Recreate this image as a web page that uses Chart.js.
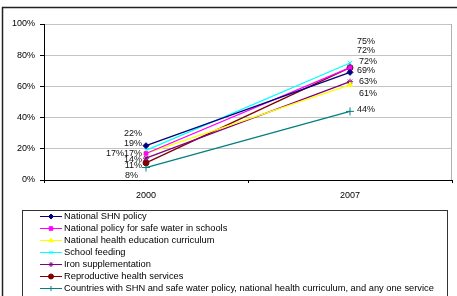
<!DOCTYPE html>
<html>
<head>
<meta charset="utf-8">
<script src="https://cdn.jsdelivr.net/npm/chart.js"></script>
<style>
  html, body { margin: 0; padding: 0; background: #fff; overflow: hidden; }
  #wrap { position: relative; width: 457px; height: 296px; overflow: hidden; }
  #title { position: absolute; left: 19px; top: -29px; margin: 0; font: 28px "Liberation Sans", Arial, sans-serif; line-height: 28px; white-space: nowrap; color: #000; font-weight: normal; }
  canvas { position: absolute; left: 0; top: 0; }
</style>
</head>
<body>
<div id="wrap">
  <h1 id="title">Implementing health programs</h1>
  <canvas id="c" width="457" height="296"></canvas>
</div>
<script>
// ---- data ----
const categories = ['2000', '2007'];
const seriesNames = [
  'National SHN policy',
  'National policy for safe water in schools',
  'National health education curriculum',
  'School feeding',
  'Iron supplementation',
  'Reproductive health services',
  'Countries with SHN and safe water policy, national health curriculum, and any one service'
];
const shnPolicy = [22, 69];
const safeWaterPolicy = [17, 72];
const healthCurriculum = [17, 61];
const schoolFeeding = [19, 75];
const ironSupplementation = [14, 63];
const reproductiveHealth = [11, 72];
const countriesAllServices = [8, 44];
const yTickValues = [0, 20, 40, 60, 80, 100];

// ---- styles ----
const FONT = '"Liberation Sans", Arial, sans-serif';
const seriesStyles = [
  { line: '#000080', point: '#000080', style: 'rectRot', r: 3 },
  { line: '#FF00FF', point: '#FF00FF', style: 'rect', r: 2.5 },
  { line: '#FFFF00', point: '#FFFF00', style: 'triangle', r: 3 },
  { line: '#00FFFF', point: '#00FFFF', style: 'crossRot', r: 3 },
  { line: '#800080', point: '#800080', style: 'star', r: 3 },
  { line: '#800000', point: '#800000', style: 'circle', r: 3 },
  { line: '#008080', point: '#008080', style: 'cross', r: 4 }
];
// label offsets per series per point: [dx, dy, align]
const labelOffsets = [
  [[-4, -12, 'right'], [7, -2, 'left']],
  [[-4, 0, 'right'], [7, -17, 'left']],
  [[-22, 0, 'right'], [9, 9, 'left']],
  [[-4, -7, 'right'], [7, -21, 'left']],
  [[-4, 1, 'right'], [9, 0, 'left']],
  [[-4, 3, 'right'], [9, -6, 'left']],
  [[-8, 8, 'right'], [7, -2, 'left']]
];

const seriesValues = [shnPolicy, safeWaterPolicy, healthCurriculum, schoolFeeding,
  ironSupplementation, reproductiveHealth, countriesAllServices];

const datasets = seriesValues.map((vals, i) => ({
  label: seriesNames[i],
  data: vals,
  borderColor: seriesStyles[i].line,
  backgroundColor: seriesStyles[i].point,
  pointBorderColor: seriesStyles[i].point,
  pointBackgroundColor: seriesStyles[i].point,
  pointStyle: seriesStyles[i].style,
  pointRadius: seriesStyles[i].r,
  pointBorderWidth: 1,
  borderWidth: 1.3,
  tension: 0,
  fill: false
}));

function drawMarker(ctx, style, r, x, y, color) {
  const h = Chart.helpers;
  if (h && h.drawPoint) {
    ctx.save();
    ctx.strokeStyle = color; ctx.fillStyle = color; ctx.lineWidth = 1;
    h.drawPoint(ctx, { pointStyle: style, radius: r, borderWidth: 1, rotation: 0 }, x, y);
    ctx.restore();
  }
}

const framePlugin = {
  id: 'frame',
  beforeDraw(chart) {
    const ctx = chart.ctx;
    ctx.save();
    ctx.strokeStyle = '#222';
    ctx.lineWidth = 1.5;
    ctx.strokeRect(2.5, 7.5, 470, 320);
    ctx.restore();
  },
  afterDraw(chart) {
    const ctx = chart.ctx;
    const a = chart.chartArea;
    ctx.save();
    // right border of plot area
    ctx.strokeStyle = '#b0b0b0';
    ctx.lineWidth = 1;
    ctx.beginPath();
    ctx.moveTo(Math.round(a.right) - 0.5, a.top);
    ctx.lineTo(Math.round(a.right) - 0.5, a.bottom);
    ctx.stroke();
    // legend box
    ctx.strokeStyle = '#333';
    ctx.strokeRect(22.5, 210.5, 425, 100);
    ctx.font = '9.3px ' + FONT;
    ctx.textBaseline = 'middle';
    ctx.textAlign = 'left';
    chart.data.datasets.forEach((ds, i) => {
      const y = 216 + 12 * i;
      ctx.strokeStyle = ds.borderColor;
      ctx.lineWidth = 1;
      ctx.beginPath();
      ctx.moveTo(40, y + 0.5);
      ctx.lineTo(62, y + 0.5);
      ctx.stroke();
      drawMarker(ctx, ds.pointStyle, Math.min(ds.pointRadius, 2.5), 51, y + 0.5, ds.pointBackgroundColor);
      ctx.fillStyle = '#000';
      ctx.fillText(ds.label, 64, y + 0.5);
    });
    ctx.restore();
  },
  afterDatasetsDraw(chart) {
    const ctx = chart.ctx;
    ctx.save();
    ctx.font = '9px ' + FONT;
    ctx.fillStyle = '#111';
    ctx.textBaseline = 'middle';
    chart.data.datasets.forEach((ds, i) => {
      const meta = chart.getDatasetMeta(i);
      meta.data.forEach((pt, j) => {
        const off = labelOffsets[i][j];
        ctx.textAlign = off[2];
        ctx.fillText(ds.data[j] + '%', pt.x + off[0], pt.y + off[1]);
      });
    });
    ctx.restore();
  }
};

new Chart(document.getElementById('c'), {
  type: 'line',
  data: { labels: categories, datasets },
  plugins: [framePlugin],
  options: {
    responsive: false,
    animation: false,
    devicePixelRatio: 1,
    layout: { padding: { top: 24, right: 2, bottom: 96, left: 0 } },
    plugins: { legend: { display: false }, tooltip: { enabled: false }, title: { display: false } },
    scales: {
      x: {
        type: 'category',
        offset: true,
        grid: { offset: true, drawOnChartArea: false, drawTicks: true, tickLength: 3, tickColor: '#000' },
        border: { color: '#000', width: 1 },
        ticks: { color: '#000', font: { size: 9, family: FONT }, padding: 7, maxRotation: 0 },
        afterFit(s) { s.height = 20; }
      },
      y: {
        min: 0, max: 100,
        afterBuildTicks(s) { s.ticks = yTickValues.map(v => ({ value: v })); },
        grid: {
          color: (c) => (c.tick && c.tick.value === 0) ? 'rgba(0,0,0,0)' : '#c4c4c4',
          tickColor: '#000', tickLength: 4, drawTicks: true
        },
        border: { color: '#000', width: 1 },
        ticks: { color: '#000', font: { size: 9, family: FONT }, padding: 5, callback: (v) => v + '%' },
        afterFit(s) { s.width = 44; }
      }
    }
  }
});
</script>
</body>
</html>
